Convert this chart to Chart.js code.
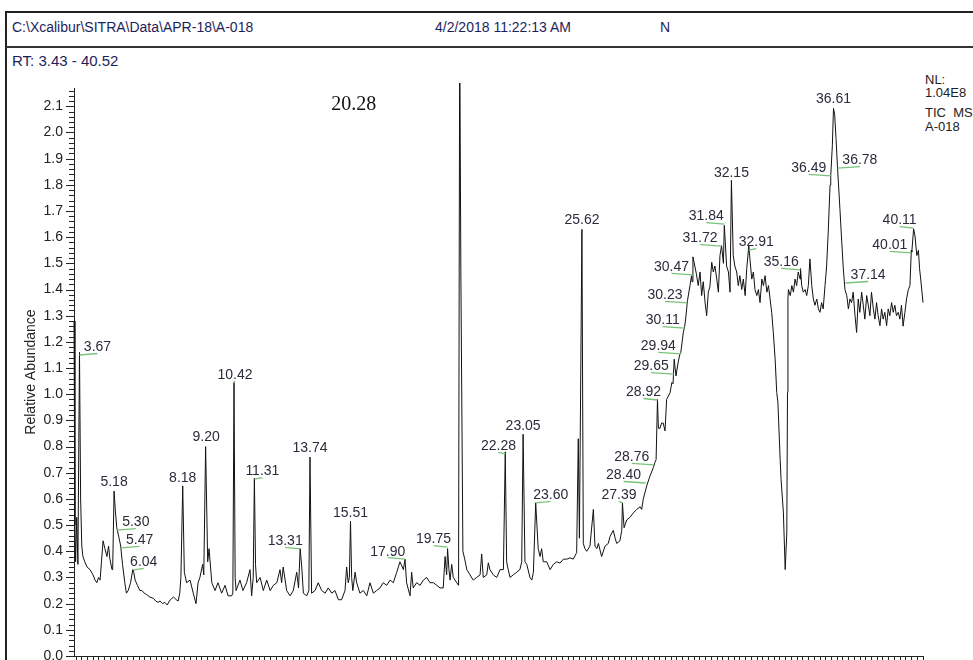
<!DOCTYPE html>
<html><head><meta charset="utf-8">
<script src="https://cdn.jsdelivr.net/npm/chart.js@4.4.1/dist/chart.umd.min.js"></script>
<style>
html,body{margin:0;padding:0;background:#fff;overflow:hidden;width:973px;height:660px}
#wrap{position:relative;width:973px;height:660px;overflow:hidden}
canvas{position:absolute;left:0;top:0}
.t{position:absolute;font-family:'Liberation Sans',Arial,sans-serif;white-space:nowrap;line-height:1}
</style></head><body>
<div id="wrap">
<div style="position:absolute;left:5px;top:11px;width:990px;height:680px;border-top:2px solid #222;border-left:2px solid #222"></div>
<div style="position:absolute;left:6px;top:46px;width:990px;height:0;border-top:2px solid #333"></div>
<div class="t" style="left:12px;top:20px;font-size:14px;color:#1e1e5a">C:\Xcalibur\SITRA\Data\APR-18\A-018</div>
<div class="t" style="left:435px;top:20px;font-size:14px;color:#1e1e5a">4/2/2018 11:22:13 AM</div>
<div class="t" style="left:660px;top:20px;font-size:14px;color:#1e1e5a">N</div>
<div class="t" style="left:12px;top:53px;font-size:15px;color:#1e1e5a">RT: 3.43 - 40.52</div>
<div class="t" style="left:925px;top:73px;font-size:13px;color:#222">NL:</div>
<div class="t" style="left:925px;top:86px;font-size:13px;color:#222">1.04E8</div>
<div class="t" style="left:925px;top:106px;font-size:13px;color:#222">TIC&nbsp;&nbsp;MS</div>
<div class="t" style="left:925px;top:120px;font-size:13px;color:#222">A-018</div>
<canvas id="c" width="973" height="660"></canvas>
</div>
<script>
// retention time (min) and relative abundance
const rt = [3.43,3.47,3.50,3.55,3.60,3.67,3.72,3.77,3.82,3.90,4.00,4.13,4.26,4.35,4.43,4.50,4.57,4.63,4.70,4.78,4.87,4.94,5.00,5.09,5.12,5.18,5.24,5.30,5.40,5.47,5.55,5.65,5.72,5.80,5.90,6.00,6.04,6.10,6.20,6.31,6.40,6.50,6.60,6.75,6.90,7.00,7.10,7.19,7.30,7.40,7.50,7.60,7.70,7.78,7.90,7.98,8.05,8.10,8.18,8.25,8.35,8.50,8.64,8.76,8.85,8.93,9.05,9.10,9.18,9.27,9.33,9.45,9.59,9.72,9.88,10.03,10.16,10.32,10.37,10.42,10.47,10.51,10.68,10.81,10.97,11.12,11.19,11.26,11.31,11.36,11.41,11.56,11.70,11.85,12.00,12.14,12.29,12.43,12.50,12.57,12.72,12.87,13.01,13.16,13.24,13.31,13.38,13.45,13.60,13.69,13.74,13.81,13.96,14.10,14.25,14.40,14.54,14.69,14.83,14.98,15.12,15.27,15.34,15.41,15.46,15.51,15.56,15.61,15.71,15.78,15.92,16.07,16.22,16.36,16.51,16.65,16.80,16.94,17.09,17.24,17.38,17.53,17.67,17.82,17.89,17.96,18.11,18.18,18.25,18.40,18.55,18.69,18.84,18.98,19.13,19.28,19.42,19.56,19.64,19.71,19.75,19.81,19.86,19.93,20.00,20.15,20.23,20.28,20.33,20.42,20.50,20.59,20.73,20.87,21.02,21.17,21.24,21.31,21.46,21.53,21.60,21.75,21.90,22.04,22.19,22.27,22.33,22.40,22.48,22.62,22.77,22.91,22.99,23.05,23.13,23.21,23.35,23.43,23.50,23.60,23.71,23.79,23.86,23.93,24.08,24.23,24.37,24.52,24.66,24.81,24.96,25.10,25.24,25.39,25.46,25.51,25.62,25.68,25.75,25.83,25.97,26.12,26.19,26.27,26.34,26.48,26.63,26.77,26.85,26.99,27.07,27.14,27.28,27.36,27.39,27.46,27.58,27.72,27.87,28.01,28.16,28.23,28.30,28.45,28.59,28.74,28.81,28.86,28.92,28.96,29.03,29.10,29.17,29.25,29.32,29.47,29.55,29.60,29.65,29.73,29.82,29.89,29.94,30.05,30.11,30.15,30.23,30.34,30.41,30.43,30.47,30.62,30.70,30.78,30.85,30.92,31.00,31.07,31.14,31.21,31.29,31.36,31.43,31.51,31.58,31.65,31.72,31.80,31.84,31.94,32.02,32.09,32.15,32.23,32.30,32.38,32.45,32.52,32.60,32.67,32.75,32.82,32.91,32.96,33.04,33.11,33.18,33.26,33.33,33.40,33.48,33.55,33.62,33.70,33.77,33.84,33.91,33.98,34.06,34.13,34.18,34.28,34.32,34.42,34.50,34.57,34.60,34.62,34.64,34.72,34.79,34.86,34.93,35.00,35.07,35.15,35.17,35.22,35.29,35.37,35.44,35.51,35.58,35.66,35.73,35.80,35.88,35.95,36.02,36.09,36.16,36.24,36.31,36.38,36.46,36.49,36.56,36.61,36.66,36.72,36.78,36.89,36.97,37.04,37.11,37.19,37.26,37.33,37.40,37.47,37.55,37.62,37.69,37.76,37.84,37.91,37.98,38.06,38.13,38.20,38.27,38.35,38.42,38.49,38.56,38.64,38.71,38.78,38.85,38.93,39.00,39.07,39.15,39.22,39.29,39.36,39.44,39.51,39.58,39.65,39.73,39.80,39.88,39.95,40.01,40.03,40.11,40.17,40.25,40.32,40.37,40.42,40.52];
const abundance = [1.28,0.50,0.36,0.53,0.35,1.16,0.60,0.42,0.38,0.36,0.34,0.33,0.31,0.29,0.28,0.30,0.29,0.36,0.44,0.41,0.38,0.42,0.37,0.33,0.33,0.63,0.55,0.49,0.45,0.42,0.35,0.28,0.24,0.25,0.28,0.33,0.32,0.29,0.27,0.25,0.25,0.24,0.235,0.225,0.22,0.21,0.205,0.21,0.20,0.205,0.195,0.21,0.22,0.225,0.215,0.21,0.24,0.30,0.65,0.32,0.28,0.29,0.24,0.20,0.28,0.30,0.35,0.31,0.80,0.36,0.41,0.28,0.25,0.28,0.24,0.27,0.23,0.23,0.24,1.045,0.30,0.25,0.29,0.25,0.28,0.33,0.23,0.30,0.68,0.35,0.28,0.30,0.25,0.29,0.25,0.27,0.28,0.33,0.28,0.34,0.25,0.23,0.25,0.32,0.26,0.41,0.34,0.24,0.23,0.25,0.76,0.24,0.25,0.28,0.25,0.24,0.26,0.24,0.25,0.215,0.215,0.25,0.34,0.28,0.30,0.515,0.30,0.25,0.32,0.28,0.24,0.25,0.23,0.28,0.24,0.25,0.26,0.28,0.27,0.29,0.28,0.32,0.36,0.33,0.37,0.28,0.23,0.32,0.26,0.28,0.27,0.29,0.30,0.28,0.28,0.27,0.26,0.26,0.38,0.31,0.41,0.33,0.29,0.35,0.30,0.28,0.27,2.40,1.47,0.40,0.37,0.33,0.31,0.29,0.30,0.31,0.39,0.30,0.31,0.356,0.33,0.31,0.30,0.33,0.33,0.78,0.36,0.33,0.30,0.31,0.32,0.33,0.36,0.847,0.36,0.35,0.30,0.29,0.32,0.585,0.41,0.38,0.41,0.36,0.36,0.33,0.35,0.36,0.355,0.37,0.37,0.375,0.37,0.395,0.83,0.45,1.63,0.43,0.41,0.40,0.42,0.56,0.42,0.41,0.43,0.38,0.42,0.43,0.457,0.48,0.45,0.43,0.44,0.48,0.585,0.49,0.52,0.53,0.547,0.56,0.57,0.56,0.60,0.65,0.687,0.72,0.74,0.75,0.98,0.87,0.87,0.89,0.89,0.86,0.98,1.006,1.045,1.04,1.134,1.07,1.12,1.15,1.16,1.237,1.26,1.287,1.357,1.415,1.453,1.43,1.525,1.46,1.415,1.467,1.377,1.43,1.35,1.30,1.39,1.41,1.504,1.467,1.49,1.44,1.39,1.53,1.568,1.50,1.645,1.49,1.467,1.39,1.817,1.53,1.49,1.467,1.415,1.453,1.40,1.44,1.377,1.48,1.568,1.517,1.44,1.467,1.40,1.377,1.40,1.35,1.44,1.415,1.453,1.39,1.415,1.364,1.313,1.236,1.134,1.007,0.97,0.75,0.674,0.55,0.33,0.47,1.007,1.364,1.40,1.377,1.415,1.39,1.44,1.415,1.467,1.44,1.48,1.415,1.39,1.40,1.377,1.415,1.517,1.415,1.364,1.34,1.364,1.326,1.313,1.35,1.326,1.415,1.49,1.62,1.80,1.836,1.95,2.092,2.07,1.977,1.875,1.709,1.582,1.479,1.40,1.377,1.326,1.364,1.35,1.39,1.30,1.236,1.364,1.313,1.39,1.34,1.287,1.377,1.34,1.30,1.39,1.326,1.287,1.35,1.30,1.262,1.326,1.287,1.313,1.262,1.326,1.30,1.35,1.313,1.34,1.30,1.313,1.287,1.34,1.26,1.313,1.364,1.40,1.415,1.55,1.543,1.632,1.605,1.53,1.55,1.48,1.44,1.35];

// peak annotations: label text (= retention time) and abundance where the label attaches
const peakLabels = ['3.67','5.18','5.30','5.47','6.04','8.18','9.20','10.42','11.31','13.31','13.74','15.51','17.90','19.75','22.28','23.05','23.60','25.62','27.39','28.40','28.76','28.92','29.65','29.94','30.11','30.23','30.47','31.72','31.84','32.15','32.91','35.16','36.49','36.61','36.78','37.14','40.01','40.11'];
const peakAnchor = [1.15,0.63,0.481,0.413,0.329,0.647,0.80,1.045,0.676,0.409,0.76,0.513,0.37,0.416,0.772,0.844,0.585,1.63,0.585,0.661,0.73,0.978,1.077,1.154,1.253,1.349,1.456,1.566,1.65,1.812,1.551,1.475,1.834,2.092,1.864,1.425,1.54,1.635];
// label horizontal offsets in px (0 = centred above the apex, otherwise joined by a leader line)
const labelDX = [18,0,19,19,10,0,0,1,8,-15,0,0,-17.5,-14,-7,0,15,0,-3.5,-22,-22,-14,-23,-22.5,-22,-22.5,-21.5,-21.5,-18,0,7.5,-19,-22,0,22.5,22.5,-21.5,-14];
const offScaleLabel = '20.28';
const yMajorStep = 0.1, yMinorStep = 0.02, xMinorStep = 0.25;

const FONT = "'Liberation Sans', Arial, sans-serif";

const decor = {
  id: 'decor',
  afterDatasetsDraw(chart) {
    const {ctx, chartArea: ca, scales: {x, y}} = chart;
    ctx.save();
    ctx.strokeStyle = '#222'; ctx.lineWidth = 1;
    const n = Math.round(y.max / yMinorStep);
    for (let i = 0; i <= n; i++) {
      const v = i * yMinorStep;
      if (v > y.max + 1e-9) break;
      const py = Math.round(y.getPixelForValue(v)) + 0.5;
      const len = (i % Math.round(yMajorStep / yMinorStep) === 0) ? 8 : 5;
      ctx.beginPath(); ctx.moveTo(ca.left - len, py); ctx.lineTo(ca.left, py); ctx.stroke();
    }
    const startT = Math.ceil(x.min / xMinorStep) * xMinorStep;
    for (let t = startT; t <= x.max + 1e-9; t += xMinorStep) {
      const px = Math.round(x.getPixelForValue(t)) + 0.5;
      ctx.beginPath(); ctx.moveTo(px, ca.bottom); ctx.lineTo(px, ca.bottom + 5); ctx.stroke();
    }
    ctx.font = '14px ' + FONT;
    ctx.textAlign = 'center'; ctx.textBaseline = 'middle';
    peakLabels.forEach((lab, i) => {
      const px = x.getPixelForValue(parseFloat(lab));
      const py = y.getPixelForValue(peakAnchor[i]);
      const dx = labelDX[i];
      let ty;
      if (dx === 0) { ty = py - 9; }
      else {
        ty = py - 7.5;
        ctx.strokeStyle = '#79c279'; ctx.lineWidth = 1.3;
        ctx.beginPath(); ctx.moveTo(px, py); ctx.lineTo(px + dx, py - 1.5); ctx.stroke();
      }
      ctx.fillStyle = '#2b2b3b';
      ctx.fillText(lab, px + dx, ty);
    });
    ctx.font = "20px 'Liberation Serif', 'Times New Roman', serif";
    ctx.fillStyle = '#111';
    ctx.fillText(offScaleLabel, x.getPixelForValue(parseFloat(offScaleLabel)) - 106, ca.top + 17);
    ctx.restore();
  }
};

new Chart(document.getElementById('c'), {
  type: 'scatter',
  data: {
    datasets: [{
      data: rt.map((t, i) => ({x: t, y: abundance[i]})),
      showLine: true, borderColor: '#111', borderWidth: 1, pointRadius: 0, tension: 0,
      clip: {left: 1, top: 5, right: 1, bottom: 1}
    }]
  },
  plugins: [decor],
  options: {
    responsive: false, animation: false,
    layout: {padding: {left: 19, top: 88, right: 50, bottom: 0}},
    plugins: {legend: {display: false}, tooltip: {enabled: false}},
    scales: {
      x: {
        type: 'linear', min: 3.43, max: 40.52,
        afterFit(s) { s.height = 4; s.paddingLeft = 0; s.paddingRight = 0; },
        ticks: {display: false}, grid: {display: false},
        border: {display: true, color: '#222', width: 1}
      },
      y: {
        type: 'linear', min: 0, max: 2.17,
        afterFit(s) { s.width = 55; s.paddingTop = 0; s.paddingBottom = 0; },
        ticks: {stepSize: yMajorStep, includeBounds: false, autoSkip: false, padding: 3, color: '#222',
                font: {size: 14, family: FONT}, callback: v => Number(v).toFixed(1)},
        grid: {display: false, tickLength: 8},
        border: {display: true, color: '#222', width: 1},
        title: {display: true, text: 'Relative Abundance', color: '#222', font: {size: 14, family: FONT}, padding: {top: 4, bottom: 0}}
      }
    }
  }
});
</script>
</body></html>
